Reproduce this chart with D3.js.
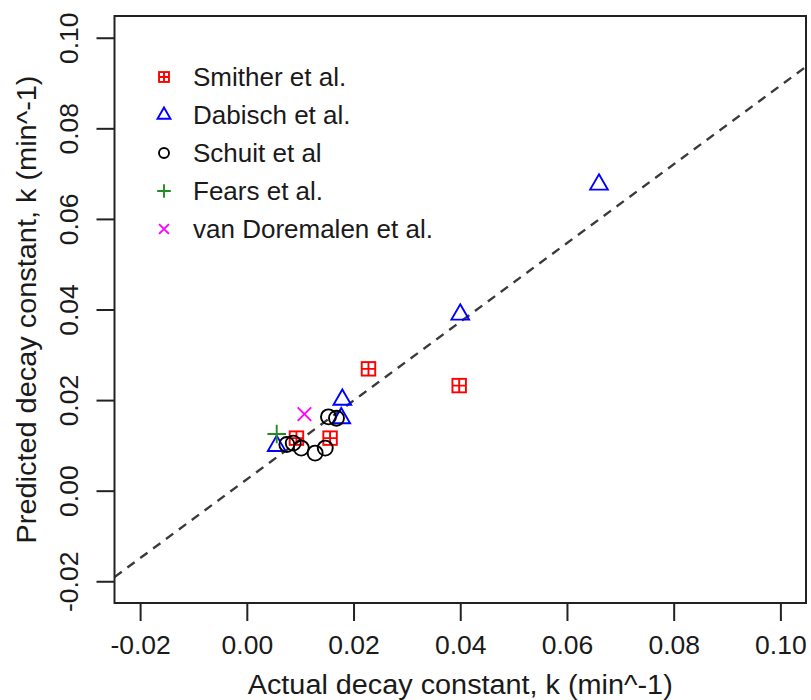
<!DOCTYPE html>
<html>
<head>
<meta charset="utf-8">
<script src="https://cdn.jsdelivr.net/npm/d3@7"></script>
<style>
  body { margin: 0; background: #fff; }
  text { font-family: "Liberation Sans", Arial, Helvetica, sans-serif; fill: #1a1a1a; }
</style>
</head>
<body>
<script>
// data (actual k, predicted k)
var smitherX = [0.0228, 0.0398, 0.0093, 0.0156];
var smitherY = [0.0269, 0.0232, 0.0116, 0.0116];
var dabischX = [0.0660, 0.0400, 0.0179, 0.0177, 0.0056];
var dabischY = [0.0676, 0.0389, 0.0201, 0.0160, 0.0099];
var schuitX = [0.0153, 0.0168, 0.0075, 0.0087, 0.0102, 0.0128, 0.0147];
var schuitY = [0.0163, 0.0160, 0.0102, 0.0105, 0.0094, 0.0083, 0.0094];
var fearsX = [0.0056];
var fearsY = [0.0125];
var vanDoremalenX = [0.0108];
var vanDoremalenY = [0.0169];

var seriesNames = ["Smither et al.", "Dabisch et al.", "Schuit et al", "Fears et al.", "van Doremalen et al."];
var seriesColors = ["#ff0000", "#0000ff", "#000000", "#228b22", "#ff00ff"];
var seriesShapes = ["squarePlus", "triangle", "circle", "plus", "cross"];

var xTicks = [-0.02, 0.00, 0.02, 0.04, 0.06, 0.08, 0.10];
var yTicks = [-0.02, 0.00, 0.02, 0.04, 0.06, 0.08, 0.10];

// fitted line: predicted = intercept + slope * actual
var fitIntercept = 0.0025;
var fitSlope = 0.8694;

var margin = {top: 16, right: 5, bottom: 97, left: 114.5},
    width = 811 - margin.left - margin.right,
    height = 700 - margin.top - margin.bottom;

// R style 4% axis extension
var lim = [-0.02, 0.10];
var ext = (lim[1] - lim[0]) * 0.04;
var x = d3.scaleLinear().domain([lim[0] - ext, lim[1] + ext]).range([0, width]);
var y = d3.scaleLinear().domain([lim[0] - ext, lim[1] + ext]).range([height, 0]);

var svg = d3.select("body").append("svg")
    .attr("width", 811)
    .attr("height", 700)
  .append("g")
    .attr("transform", "translate(" + margin.left + "," + margin.top + ")");

// clip for the dashed line
svg.append("clipPath").attr("id", "clip")
  .append("rect").attr("width", width).attr("height", height);

svg.append("line")
    .attr("clip-path", "url(#clip)")
    .attr("x1", x(x.domain()[0]))
    .attr("y1", y(fitIntercept + fitSlope * x.domain()[0]))
    .attr("x2", x(x.domain()[1]))
    .attr("y2", y(fitIntercept + fitSlope * x.domain()[1]))
    .attr("stroke", "#3a3a3a")
    .attr("stroke-width", 2.4)
    .attr("stroke-dasharray", "9,7");

// axes
var fmt = function(d){ return d3.format(".2f")(d).replace("−", "-"); };
var xAxis = d3.axisBottom(x).tickValues(xTicks).tickSize(18).tickFormat(fmt);
var yAxis = d3.axisLeft(y).tickValues(yTicks).tickSize(18).tickFormat(fmt);

var gx = svg.append("g")
    .attr("transform", "translate(0," + height + ")")
    .call(xAxis);
gx.select(".domain").remove();
gx.selectAll("line").attr("stroke", "#222").attr("stroke-width", 2);
gx.selectAll("text")
    .attr("y", 51)
    .attr("dy", null)
    .style("font-size", "26.5px");

var gy = svg.append("g").call(yAxis);
gy.select(".domain").remove();
gy.selectAll("line").attr("stroke", "#222").attr("stroke-width", 2);
gy.selectAll("text")
    .attr("x", null).attr("dy", null)
    .attr("transform", "translate(-36.5,0) rotate(-90)")
    .style("text-anchor", "middle")
    .style("font-size", "26.5px");

// frame
svg.append("rect")
    .attr("width", width)
    .attr("height", height)
    .attr("fill", "none")
    .attr("stroke", "#222")
    .attr("stroke-width", 2);

// axis titles
svg.append("text")
    .attr("x", width / 2)
    .attr("y", height + 91)
    .style("text-anchor", "middle")
    .style("font-size", "27px")
    .attr("textLength", 425)
    .attr("lengthAdjust", "spacingAndGlyphs")
    .text("Actual decay constant, k (min^-1)");

svg.append("text")
    .attr("transform", "translate(" + (36 - margin.left) + "," + (height / 2) + ") rotate(-90)")
    .style("text-anchor", "middle")
    .style("font-size", "27px")
    .attr("textLength", 468)
    .attr("lengthAdjust", "spacingAndGlyphs")
    .text("Predicted decay constant, k (min^-1)");

// point symbols, drawn around (0,0)
function drawSymbol(g, shape, color, s) {
  var sw = 1.9;
  if (shape === "circle") {
    g.append("circle").attr("r", s * 0.5).attr("fill", "none").attr("stroke", color).attr("stroke-width", sw);
  } else if (shape === "triangle") {
    var r = s * 0.68;
    var xc = r * Math.sqrt(3) / 2;
    g.append("path")
      .attr("d", "M0," + (-r) + "L" + xc + "," + (r / 2) + "L" + (-xc) + "," + (r / 2) + "Z")
      .attr("fill", "none").attr("stroke", color).attr("stroke-width", sw);
  } else if (shape === "squarePlus") {
    var h = s * 0.45;
    g.append("rect").attr("x", -h).attr("y", -h).attr("width", 2 * h).attr("height", 2 * h)
      .attr("fill", "none").attr("stroke", color).attr("stroke-width", sw);
    g.append("path").attr("d", "M" + (-h) + ",0H" + h + "M0," + (-h) + "V" + h)
      .attr("stroke", color).attr("stroke-width", sw);
  } else if (shape === "plus") {
    var p = s * 0.62;
    g.append("path").attr("d", "M" + (-p) + ",0H" + p + "M0," + (-p) + "V" + p)
      .attr("stroke", color).attr("stroke-width", sw);
  } else if (shape === "cross") {
    var c = s * 0.45;
    g.append("path").attr("d", "M" + (-c) + "," + (-c) + "L" + c + "," + c + "M" + (-c) + "," + c + "L" + c + "," + (-c))
      .attr("stroke", color).attr("stroke-width", sw);
  }
}

var allSeries = [
  {xs: smitherX, ys: smitherY},
  {xs: dabischX, ys: dabischY},
  {xs: schuitX, ys: schuitY},
  {xs: fearsX, ys: fearsY},
  {xs: vanDoremalenX, ys: vanDoremalenY}
];

var symSize = 15;
allSeries.forEach(function(s, i) {
  s.xs.forEach(function(v, j) {
    var g = svg.append("g")
        .attr("transform", "translate(" + x(v) + "," + y(s.ys[j]) + ")");
    drawSymbol(g, seriesShapes[i], seriesColors[i], symSize);
  });
});

// legend
var legend = svg.append("g").attr("transform", "translate(" + (164 - margin.left) + "," + (77 - margin.top) + ")");
seriesNames.forEach(function(name, i) {
  var row = legend.append("g").attr("transform", "translate(0," + (i * 38) + ")");
  drawSymbol(row, seriesShapes[i], seriesColors[i], i === 2 ? 10 : 11);
  row.append("text")
      .attr("x", 29)
      .attr("y", 9)
      .style("font-size", "26px")
      .text(name);
});
</script>
</body>
</html>
